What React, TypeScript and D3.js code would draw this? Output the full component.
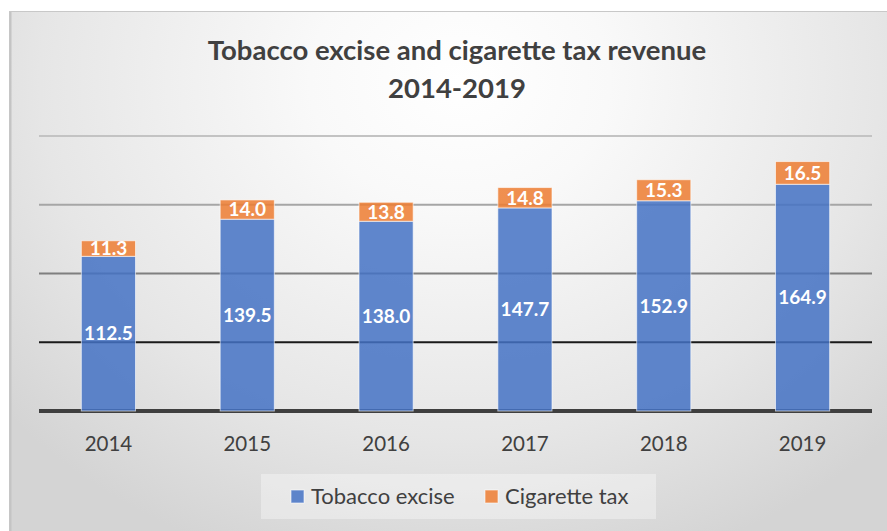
import React from "react";
import * as d3 from "d3";

const years = ["2014", "2015", "2016", "2017", "2018", "2019"];
const tobaccoExcise = [112.5, 139.5, 138.0, 147.7, 152.9, 164.9];
const cigaretteTax = [11.3, 14.0, 13.8, 14.8, 15.3, 16.5];
const seriesNames = ["Tobacco excise", "Cigarette tax"];
const seriesColors = ["#4472C4", "#ED7D31"];
const yTicks = [0, 50, 100, 150, 200];
const gridColors = ["#3f3f3f", "#1a1a1a", "#7f7f7f", "#a6a6a6", "#c3c3c3"];
const titleLines = ["Tobacco excise and cigarette tax revenue", "2014-2019"];

const W = 887;
const H = 531;
const plot = { left: 39, right: 872, top: 136, bottom: 411 };

export default function App() {
  const x = d3
    .scaleBand<string>()
    .domain(years)
    .range([plot.left, plot.right])
    .paddingInner(0.61)
    .paddingOuter(0.305);
  const y = d3.scaleLinear().domain([0, 200]).range([plot.bottom, plot.top]);

  const rows = years.map((yr, i) => ({ year: yr, a: tobaccoExcise[i], b: cigaretteTax[i] }));
  const stack = d3.stack<any>().keys(["a", "b"])(rows);

  const font = "Lato, 'Open Sans', sans-serif";

  return (
    <div style={{ position: "absolute", left: 0, top: 0 }}>
      <svg width={W} height={H} style={{ display: "block" }}>
        <defs>
          <radialGradient
            id="bg"
            gradientUnits="userSpaceOnUse"
            cx={460}
            cy={80}
            r={600}
            gradientTransform="translate(460,80) scale(1,0.85) translate(-460,-80)"
          >
            <stop offset="0" stopColor="#ffffff" />
            <stop offset="0.25" stopColor="#f9f9f9" />
            <stop offset="0.7" stopColor="#e6e6e6" />
            <stop offset="1" stopColor="#d4d4d4" />
          </radialGradient>
        </defs>
        <rect x={0} y={0} width={W} height={H} fill="#ffffff" />
        <rect x={9.5} y={11.5} width={W} height={H} fill="url(#bg)" stroke="#c8c8c8" strokeWidth={1} />
        <line x1={10.5} x2={10.5} y1={12} y2={H} stroke="#c4c4c4" strokeWidth={2} />

        {titleLines.map((t, i) => (
          <text
            key={t}
            x={457}
            y={60 + i * 38}
            textAnchor="middle"
            fontFamily={font}
            fontWeight={700}
            fontSize={27.5}
            fill="#404040"
          >
            {t}
          </text>
        ))}

        {yTicks.map((v, i) => (
          <line
            key={v}
            x1={plot.left}
            x2={plot.right}
            y1={y(v)}
            y2={y(v)}
            stroke={gridColors[i]}
            strokeWidth={i === 0 ? 4 : 2}
          />
        ))}

        {stack.map((layer, si) =>
          layer.map((d, i) => {
            const x0 = x(years[i])!;
            const top = y(d[1]);
            const h = y(d[0]) - y(d[1]);
            const val = si === 0 ? tobaccoExcise[i] : cigaretteTax[i];
            return (
              <g key={`${si}-${i}`}>
                <rect
                  x={x0}
                  y={top}
                  width={x.bandwidth()}
                  height={h}
                  fill={seriesColors[si]}
                  fillOpacity={0.85}
                  stroke="#ffffff"
                  strokeOpacity={0.6}
                  strokeWidth={1}
                />
                <text
                  x={x0 + x.bandwidth() / 2}
                  y={top + h / 2}
                  dy="0.36em"
                  textAnchor="middle"
                  fontFamily={font}
                  fontWeight={700}
                  fontSize={19}
                  fill="#ffffff"
                >
                  {val.toFixed(1)}
                </text>
              </g>
            );
          })
        )}

        {years.map((yr) => (
          <text
            key={yr}
            x={x(yr)! + x.bandwidth() / 2}
            y={451}
            textAnchor="middle"
            fontFamily={font}
            fontSize={20.5}
            fill="#404040"
          >
            {yr}
          </text>
        ))}

        <rect x={261} y={474} width={395} height={45} fill="#ffffff" fillOpacity={0.35} />
        {seriesNames.map((n, i) => {
          const lx = [291, 485][i];
          return (
            <g key={n}>
              <rect x={lx} y={490} width={13} height={13} fill={seriesColors[i]} fillOpacity={0.85} stroke="#ffffff" strokeOpacity={0.6} />
              <text x={lx + 20} y={504} fontFamily={font} fontSize={22} fill="#404040">
                {n}
              </text>
            </g>
          );
        })}
      </svg>
    </div>
  );
}
